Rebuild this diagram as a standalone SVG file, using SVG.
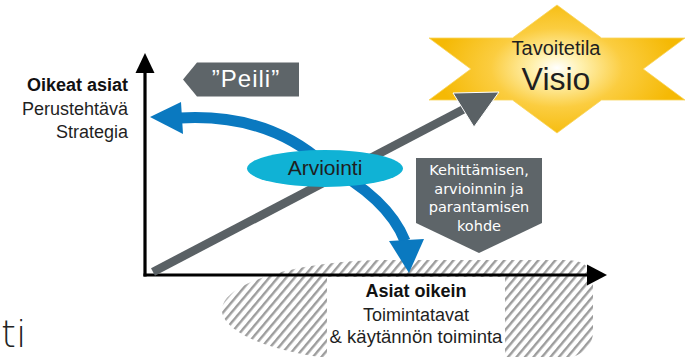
<svg xmlns="http://www.w3.org/2000/svg" width="690" height="357" viewBox="0 0 690 357">
  <defs>
    <pattern id="hatch" width="6.5" height="6.5" patternUnits="userSpaceOnUse" patternTransform="rotate(40)">
      <rect x="0" y="0" width="2.4" height="6.5" fill="#9d9d9d"/>
    </pattern>
    <radialGradient id="starGrad" gradientUnits="userSpaceOnUse" cx="557" cy="68" r="120" gradientTransform="translate(557 68) scale(1 0.6) translate(-557 -68)">
      <stop offset="0" stop-color="#ffffff"/>
      <stop offset="0.2" stop-color="#fff1b0"/>
      <stop offset="0.55" stop-color="#fbcd40"/>
      <stop offset="1" stop-color="#f5b905"/>
    </radialGradient>
    <style>
      .t { font-family: "Liberation Sans", Arial, sans-serif; fill: #1f1f1f; }
      .b { font-weight: bold; fill: #111; }
      .w { fill: #ffffff; }
      .grey { fill: #5e6569; }
      .blue { fill: #0a79c0; }
    </style>
  </defs>

  <rect width="690" height="357" fill="#ffffff"/>

  <!-- hatched area -->
  <g id="hatch-area">
    <path d="M 222,310 C 222,284 290,262 380,260 L 565,260 C 585,260 593,268 593,285 L 593,332 C 593,350 575,362 540,362 L 380,362 C 290,360 222,336 222,310 Z" fill="url(#hatch)"/>
    <rect x="327" y="277" width="178" height="80" fill="#ffffff"/>
  </g>

  <!-- star -->
  <g id="visio">
    <polygon points="557,5 512.5,38 429,38 470.8,69 429,100 512.5,100 557,133 601.5,100 685,100 643.2,69 685,38 601.5,38" fill="url(#starGrad)" stroke="#f9d45a" stroke-width="0.8"/>
    <text class="t" x="556" y="55" font-size="20" text-anchor="middle">Tavoitetila</text>
    <text class="t" x="556" y="90" font-size="32" text-anchor="middle">Visio</text>
  </g>

  <!-- connectors -->
  <g id="connectors">
    <!-- axes -->
    <line x1="145" y1="70" x2="145" y2="276.5" stroke="#000" stroke-width="3.2"/>
    <polygon points="145,53 135.5,73 154.5,73" fill="#000"/>
    <line x1="143.5" y1="275" x2="590" y2="275" stroke="#000" stroke-width="3.2"/>
    <polygon points="607,275 587,264.5 587,285.5" fill="#000"/>
    <!-- grey diagonal arrow -->
    <line x1="153" y1="272" x2="466" y2="108" stroke="#5a6165" stroke-width="8.5"/>
    <polygon points="499,92 453,93 474,127" fill="#5a6165" stroke="#ffffff" stroke-width="1"/>
    <!-- blue curved arrow -->
    <path d="M 180,118 Q 268,113 325,165 Q 388,198 405,241" fill="none" stroke="#0a79c0" stroke-width="11"/>
    <polygon class="blue" points="150,117 181,102 183,134"/>
    <polygon class="blue" points="409,273 389,241 424,239"/>
  </g>

  <!-- Arviointi -->
  <g id="arviointi">
    <ellipse cx="325" cy="168.5" rx="78" ry="18.5" fill="#10b2d5"/>
    <text class="t" x="325" y="175" font-size="21" text-anchor="middle" fill="#111">Arviointi</text>
  </g>

  <!-- Peili -->
  <g id="peili">
    <polygon class="grey" points="183,79.5 197,62.5 299,62.5 299,96.5 197,96.5"/>
    <text class="t w" x="246" y="87" font-size="24" text-anchor="middle" letter-spacing="1">”Peili”</text>
  </g>

  <!-- Kehittämisen -->
  <g id="kohde">
    <polygon class="grey" points="416,158 542,158 542,223 479,253 416,223"/>
    <g font-family="'DejaVu Sans', Verdana, sans-serif" font-size="14.5" fill="#ffffff" text-anchor="middle">
      <text x="479" y="175">Kehittämisen,</text>
      <text x="479" y="193.5">arvioinnin ja</text>
      <text x="479" y="212">parantamisen</text>
      <text x="479" y="230.5">kohde</text>
    </g>
  </g>

  <!-- left labels -->
  <g id="oikeat-asiat">
    <text class="t b" x="128" y="91" font-size="18" text-anchor="end">Oikeat asiat</text>
    <text class="t" x="128" y="115" font-size="18" text-anchor="end">Perustehtävä</text>
    <text class="t" x="128" y="138" font-size="18" text-anchor="end">Strategia</text>
  </g>

  <!-- bottom labels -->
  <g id="asiat-oikein">
    <text class="t b" x="416" y="297" font-size="18" text-anchor="middle">Asiat oikein</text>
    <text class="t" x="416" y="321" font-size="18" text-anchor="middle">Toimintatavat</text>
    <text class="t" x="416" y="343" font-size="18.5" text-anchor="middle">&amp; käytännön toiminta</text>
  </g>

  <!-- stray text -->
  <text x="1" y="347" font-family="'DejaVu Sans', sans-serif" font-weight="200" font-size="38" fill="#222">ti</text>
</svg>
